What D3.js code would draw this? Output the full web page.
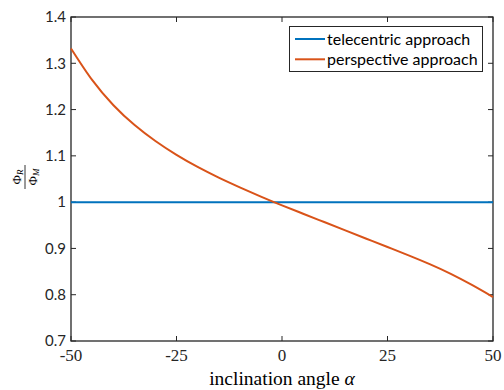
<!DOCTYPE html>
<html>
<head>
<meta charset="utf-8">
<script src="https://cdn.jsdelivr.net/npm/d3@7"></script>
<style>
    body { margin: 0; background: #fff; }
    .c-tick-y { font-family: "Lato", "Open Sans", sans-serif; font-size: 15px; fill: #262626; }
    .c-tick-x { font-family: "Liberation Serif", "DejaVu Serif", serif; font-size: 17px; fill: #262626; }
    .c-legend-text { font-family: "Lato", "Open Sans", sans-serif; font-size: 16px; fill: #000; }
</style>
</head>
<body>
<svg id="chart" width="504" height="390"></svg>
<script>
    // data
    var angles = [-50, -45, -40, -35, -30, -25, -20, -15, -10, -5, 0, 5, 10, 15, 20, 25, 30, 35, 40, 45, 50];
    var perspective = [1.332, 1.264, 1.210, 1.167, 1.132, 1.102, 1.076, 1.053, 1.032, 1.012, 0.993,
                       0.975, 0.957, 0.939, 0.921, 0.903, 0.885, 0.866, 0.845, 0.821, 0.795];
    var telecentric = angles.map(function() { return 1; });
    var x_ticks = [-50, -25, 0, 25, 50];
    var y_ticks = [0.7, 0.8, 0.9, 1, 1.1, 1.2, 1.3, 1.4];
    var series_names = ["telecentric approach", "perspective approach"];
    var series_colors = ["#0072bd", "#d95319"];

    var svg = d3.select("#chart");
    var plot_l = 71, plot_r = 493, plot_t = 17, plot_b = 341;
    var tick_len = 5;

    var x = d3.scaleLinear().domain([-50, 50]).range([plot_l, plot_r]);
    var y = d3.scaleLinear().domain([0.7, 1.4]).range([plot_b, plot_t]);

    // box
    svg.append("rect")
        .attr("x", plot_l).attr("y", plot_t)
        .attr("width", plot_r - plot_l).attr("height", plot_b - plot_t)
        .attr("fill", "none").attr("stroke", "#262626").attr("stroke-width", 1.3);

    // ticks, pointing inside on all four sides
    var ticks = svg.append("g").attr("stroke", "#262626").attr("stroke-width", 1);
    x_ticks.forEach(function(t) {
        ticks.append("line").attr("x1", x(t)).attr("x2", x(t)).attr("y1", plot_b).attr("y2", plot_b - tick_len);
        ticks.append("line").attr("x1", x(t)).attr("x2", x(t)).attr("y1", plot_t).attr("y2", plot_t + tick_len);
    });
    y_ticks.forEach(function(t) {
        ticks.append("line").attr("x1", plot_l).attr("x2", plot_l + tick_len).attr("y1", y(t)).attr("y2", y(t));
        ticks.append("line").attr("x1", plot_r).attr("x2", plot_r - tick_len).attr("y1", y(t)).attr("y2", y(t));
    });

    // tick labels
    svg.append("g").selectAll("text").data(y_ticks).join("text")
        .attr("class", "c-tick-y")
        .attr("x", plot_l - 5)
        .attr("y", function(d) { return y(d); })
        .attr("dy", "0.35em")
        .attr("text-anchor", "end")
        .text(function(d) { return d3.format("")(d); });

    svg.append("g").selectAll("text").data(x_ticks).join("text")
        .attr("class", "c-tick-x")
        .attr("x", function(d) { return x(d); })
        .attr("y", 361)
        .attr("text-anchor", "middle")
        .text(function(d) { return d < 0 ? "-" + Math.abs(d) : d; });

    // x title
    var x_title = svg.append("text")
        .attr("x", (plot_l + plot_r) / 2)
        .attr("y", 385)
        .attr("text-anchor", "middle")
        .style("font-family", "'Liberation Serif', 'DejaVu Serif', serif")
        .style("font-size", "19.5px")
        .attr("fill", "#000");
    x_title.append("tspan").text("inclination angle ");
    x_title.append("tspan").style("font-style", "italic").text("α");

    // y title: fraction Phi_R / Phi_M, rotated
    var y_title = svg.append("g")
        .attr("transform", "translate(25,177) rotate(-90)")
        .style("font-family", "'Liberation Serif', 'DejaVu Serif', serif")
        .attr("fill", "#000");
    var num = y_title.append("text").attr("x", 0).attr("y", -4).attr("text-anchor", "middle").style("font-size", "13px");
    num.append("tspan").text("Φ");
    num.append("tspan").attr("dy", 2).style("font-size", "9px").style("font-style", "italic").text("R");
    y_title.append("line").attr("x1", -12).attr("x2", 12).attr("y1", 0).attr("y2", 0)
        .attr("stroke", "#000").attr("stroke-width", 0.8);
    var den = y_title.append("text").attr("x", 0).attr("y", 12).attr("text-anchor", "middle").style("font-size", "13px");
    den.append("tspan").text("Φ");
    den.append("tspan").attr("dy", 2).style("font-size", "9px").style("font-style", "italic").text("M");

    // lines
    var line = d3.line()
        .x(function(d) { return x(d[0]); })
        .y(function(d) { return y(d[1]); })
        .curve(d3.curveNatural);

    var series = [telecentric, perspective];
    series.forEach(function(values, i) {
        svg.append("path")
            .datum(angles.map(function(a, j) { return [a, values[j]]; }))
            .attr("d", line)
            .attr("fill", "none")
            .attr("stroke", series_colors[i])
            .attr("stroke-width", 2);
    });

    // legend
    var legend = svg.append("g");
    legend.append("rect")
        .attr("x", 289.5).attr("y", 26.5).attr("width", 193).attr("height", 45)
        .attr("fill", "#fff").attr("stroke", "#262626").attr("stroke-width", 1);
    series_names.forEach(function(name, i) {
        var ly = 39 + i * 20.3;
        legend.append("line")
            .attr("x1", 295).attr("x2", 325).attr("y1", ly).attr("y2", ly)
            .attr("stroke", series_colors[i]).attr("stroke-width", 2);
        legend.append("text")
            .attr("class", "c-legend-text")
            .attr("x", 327).attr("y", ly).attr("dy", "0.35em")
            .text(name);
    });
</script>
</body>
</html>
